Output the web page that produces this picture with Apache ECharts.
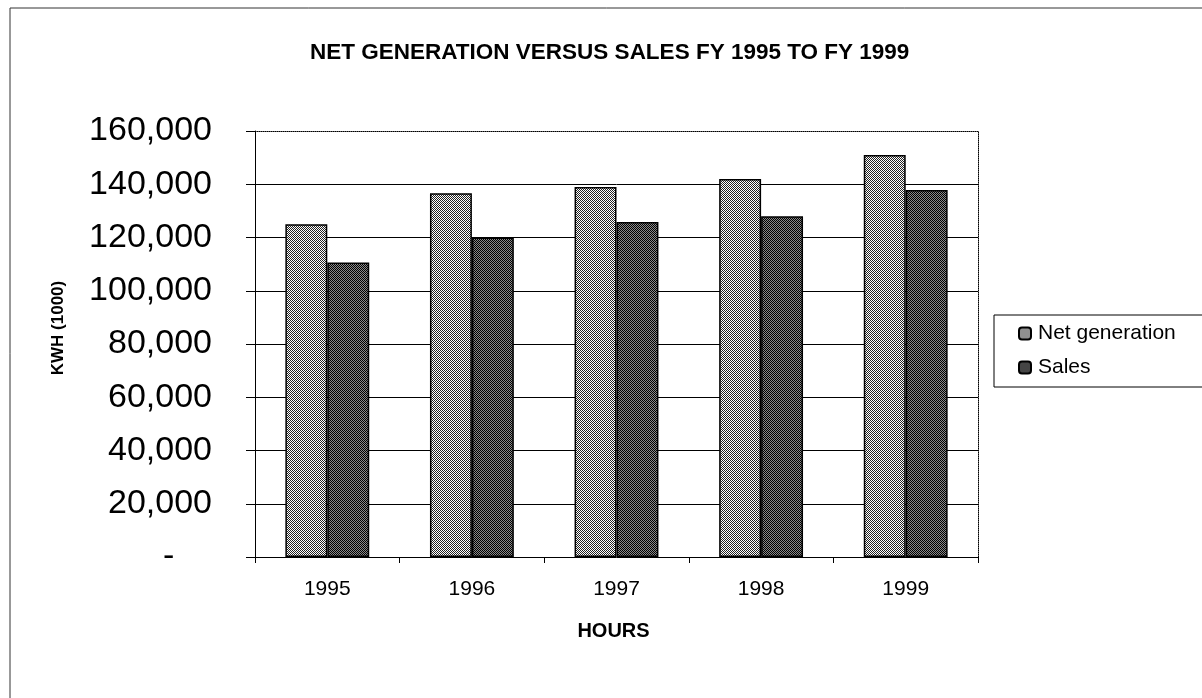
<!DOCTYPE html>
<html>
<head>
<meta charset="utf-8">
<script src="https://cdn.jsdelivr.net/npm/echarts@6/dist/echarts.min.js"></script>
<style>
  html, body { margin: 0; padding: 0; background: #fff; }
  #chart { width: 1202px; height: 698px; }
</style>
</head>
<body>
<div id="chart"></div>
<script>
const categories = ['1995', '1996', '1997', '1998', '1999'];
const netGeneration = [125000, 136600, 139000, 142000, 151000];
const sales = [110600, 120000, 125800, 128000, 137800];
const yTicks = [0, 20000, 40000, 60000, 80000, 100000, 120000, 140000, 160000];

function makePattern(pixels) {
  const c = document.createElement('canvas');
  c.width = 2; c.height = 2;
  const ctx = c.getContext('2d');
  pixels.forEach((col, i) => {
    ctx.fillStyle = col;
    ctx.fillRect(i % 2, Math.floor(i / 2), 1, 1);
  });
  return { image: c, repeat: 'repeat' };
}
const netPattern = makePattern(['#222222', '#ffffff', '#ffffff', '#222222']);
const salesPattern = makePattern(['#000000', '#8a8a8a', '#8a8a8a', '#000000']);

const FONT = '"Liberation Sans", Arial, sans-serif';
const chart = echarts.init(document.getElementById('chart'), null, { renderer: 'canvas' });

chart.setOption({
  backgroundColor: '#ffffff',
  animation: false,
  title: {
    text: 'NET GENERATION VERSUS SALES FY 1995 TO FY 1999',
    left: 310, top: 41, padding: 0,
    textStyle: { fontFamily: FONT, fontSize: 22.5, fontWeight: 'bold', color: '#000' }
  },
  graphic: [{
    type: 'rect',
    shape: { x: 10, y: 8, width: 1200, height: 700 },
    style: { fill: 'none', stroke: '#333', lineWidth: 1 },
    silent: true
  }],
  legend: {
    orient: 'vertical',
    left: 994, top: 315,
    padding: [8, 40, 9, 24],
    itemGap: 13,
    itemWidth: 12, itemHeight: 12,
    borderColor: '#000', borderWidth: 1,
    textStyle: { fontFamily: FONT, fontSize: 21, color: '#000', padding: [0, 0, 0, 2] },
    data: ['Net generation', 'Sales']
  },
  grid: { left: 255, right: 224, top: 131, bottom: 141, containLabel: false },
  xAxis: [{
    type: 'category',
    data: categories,
    position: 'bottom',
    name: 'HOURS',
    nameLocation: 'middle',
    nameGap: 64,
    nameTextStyle: { fontFamily: FONT, fontSize: 20, fontWeight: 'bold', color: '#000', padding: [0, 6, 0, 0] },
    axisLine: { show: true, lineStyle: { color: '#000', width: 1 } },
    axisTick: { show: true, inside: false, length: 6, lineStyle: { color: '#000' } },
    axisLabel: { fontFamily: FONT, fontSize: 21, color: '#000', margin: 22 },
    splitLine: { show: false }
  }, {
    type: 'category',
    data: categories,
    position: 'top',
    axisLine: { show: true, onZero: false, lineStyle: { color: '#000', width: 1, type: 'dotted' } },
    axisTick: { show: false },
    axisLabel: { show: false },
    splitLine: { show: false }
  }],
  yAxis: [{
    type: 'value',
    min: 0, max: 160000, interval: 20000,
    name: 'KWH (1000)',
    nameLocation: 'middle',
    nameRotate: 90,
    nameGap: 188,
    nameTextStyle: { fontFamily: FONT, fontSize: 17, fontWeight: 'bold', color: '#000', padding: [0, 0, 0, 32] },
    axisLine: { show: true, lineStyle: { color: '#000', width: 1 } },
    axisTick: { show: true, inside: false, length: 9, lineStyle: { color: '#000' } },
    axisLabel: {
      fontFamily: FONT, fontSize: 34, color: '#000', margin: 43,
      formatter: function (v) {
        if (v === 0) return '-\u00a0\u00a0\u00a0\u00a0';
        return v.toLocaleString('en-US');
      }
    },
    splitLine: { show: true, showMinLine: false, showMaxLine: false, lineStyle: { color: '#000', width: 1 } }
  }, {
    type: 'value',
    min: 0, max: 160000, interval: 20000,
    position: 'right',
    axisLine: { show: true, onZero: false, lineStyle: { color: '#000', width: 1, type: 'dotted' } },
    axisTick: { show: false },
    axisLabel: { show: false },
    splitLine: { show: false }
  }],
  series: [{
    name: 'Net generation',
    type: 'bar',
    data: netGeneration,
    barGap: '0%',
    barCategoryGap: '42%',
    itemStyle: { color: netPattern, borderColor: '#000', borderWidth: 1.5 }
  }, {
    name: 'Sales',
    type: 'bar',
    data: sales,
    barGap: '0%',
    barCategoryGap: '42%',
    itemStyle: { color: salesPattern, borderColor: '#000', borderWidth: 1.5 }
  }]
});
</script>
</body>
</html>
